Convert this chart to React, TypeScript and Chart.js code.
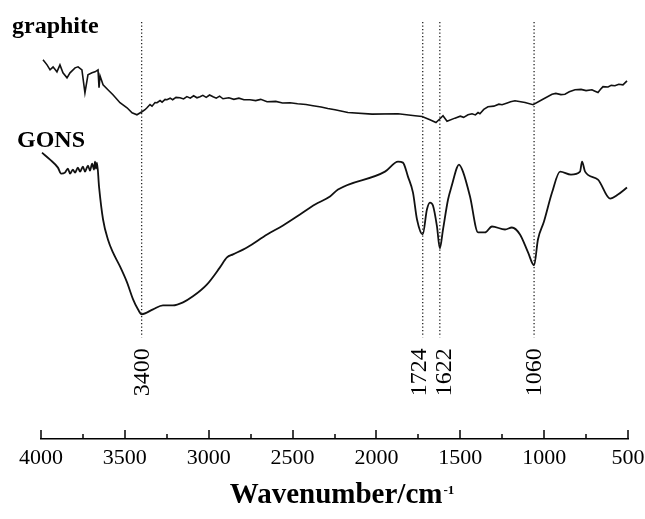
import React, { useEffect, useRef } from 'react';
import { Chart, registerables } from 'chart.js';

Chart.register(...registerables);

// Wavenumber (cm-1) and relative transmittance (a.u.)
const graphiteWn = [3988, 3964, 3946, 3928, 3905, 3887, 3869, 3845, 3827, 3797, 3779, 3756, 3738, 3720, 3696, 3678, 3660, 3654, 3648, 3630, 3601, 3571, 3529, 3487, 3457, 3428, 3398, 3380, 3368, 3350, 3338, 3320, 3308, 3290, 3278, 3260, 3249, 3230, 3215, 3195, 3171, 3150, 3130, 3110, 3090, 3070, 3052, 3035, 3015, 2995, 2974, 2955, 2935, 2915, 2880, 2850, 2820, 2790, 2754, 2720, 2690, 2652, 2600, 2560, 2515, 2470, 2420, 2378, 2330, 2290, 2247, 2170, 2026, 1871, 1770, 1728, 1681, 1645, 1621, 1603, 1579, 1532, 1500, 1480, 1454, 1430, 1410, 1394, 1383, 1360, 1335, 1300, 1270, 1251, 1220, 1200, 1174, 1140, 1114, 1066, 1013, 953, 930, 900, 876, 850, 816, 780, 750, 715, 700, 679, 660, 649, 619, 600, 578, 555, 530, 506];
const graphiteT = [95, 93.75, 92.5, 93.25, 92, 93.75, 91.75, 90.5, 91.75, 93, 93.25, 92.5, 86.75, 91.25, 91.75, 92, 92.5, 88, 91, 88.75, 87.5, 86.25, 84.25, 83, 81.75, 81.25, 82, 82.5, 83, 83.8, 83.4, 84.3, 84.25, 84.8, 84.4, 85.1, 85, 85.4, 85, 85.6, 85.5, 85.2, 85.8, 85.4, 86, 85.5, 85.75, 86.1, 85.6, 86.2, 85.75, 85.4, 85.9, 85.25, 85.5, 85.1, 85.4, 85, 85, 84.8, 85.1, 84.5, 84.6, 84.2, 84.25, 84, 83.8, 83.5, 83.2, 82.8, 82.5, 81.8, 81.4, 81.5, 81, 80.8, 80, 79.3, 80.25, 81, 79.6, 80.4, 80.9, 80.6, 81.25, 81.5, 81.2, 81.8, 81.5, 82.6, 83.25, 83.4, 83.9, 83.75, 84.2, 84.5, 84.75, 84.5, 84.3, 83.75, 85, 86.4, 86.6, 86.3, 86.4, 87, 87.5, 87.6, 87.3, 87.5, 87.2, 86.8, 87.8, 88.3, 88.2, 88.6, 88.5, 88.9, 88.75, 89.75];

const gonsWn = [3994, 3946, 3899, 3880, 3857, 3840, 3827, 3810, 3797, 3780, 3767, 3750, 3738, 3720, 3708, 3695, 3684, 3678, 3672, 3666, 3654, 3630, 3601, 3571, 3529, 3487, 3451, 3422, 3400, 3332, 3273, 3213, 3153, 3094, 3010, 2933, 2891, 2855, 2772, 2652, 2557, 2456, 2366, 2277, 2229, 1949, 1871, 1842, 1812, 1782, 1758, 1724, 1699, 1681, 1663, 1639, 1622, 1603, 1573, 1549, 1520, 1508, 1484, 1442, 1394, 1353, 1311, 1233, 1192, 1144, 1096, 1060, 1037, 1001, 953, 905, 840, 786, 774, 756, 679, 607, 560, 506];
const gonsT = [71.75, 70, 68, 66.5, 66.75, 67.75, 66.5, 67.5, 66.75, 68, 67, 68.25, 67, 68.5, 67.25, 69, 67.5, 69.5, 67.75, 69.25, 63.25, 55, 50, 46.75, 43.25, 39.25, 35, 32.5, 31.25, 32.5, 33.5, 33.5, 34.25, 35.75, 38.75, 43, 45.5, 46.25, 48, 51.25, 53.5, 56.25, 58.75, 60.75, 62.5, 67, 69.5, 69.25, 65.75, 61.75, 55, 51.25, 57.5, 59.25, 58.5, 53.25, 47.75, 52.5, 60, 63.75, 68, 68.75, 67, 60.75, 51.75, 51.75, 53.25, 52.5, 53, 51.25, 46.75, 43.5, 50, 54.5, 61.75, 67, 66.25, 67, 69.5, 67, 65, 60.25, 61.25, 63];

const peakPositions = [3400, 1724, 1622, 1060];
const peakLabels = ['3400', '1724', '1622', '1060'];
const markerTop = 104.5;
const markerBottom = 25.5;
const peakLabelLevel = 16.75;

const xTicksMajor = [4000, 3500, 3000, 2500, 2000, 1500, 1000, 500];
const xMin = 500;
const xMax = 4000;
const seriesNames = ['graphite', 'GONS'];

const toPoints = (xs: number[], ys: number[]) => xs.map((x, i) => ({ x, y: ys[i] }));

const annotatePlugin = {
  id: 'annotate',
  afterDraw(chart: any) {
    const { ctx, scales, chartArea } = chart;
    const xs = scales.x;
    const ys = scales.y;
    ctx.save();
    // tick marks pointing up from the axis line
    const axisY = xs.top;
    ctx.strokeStyle = '#000';
    ctx.lineWidth = 1.5;
    for (let v = xMin; v <= xMax; v += 250) {
      const px = Math.round(xs.getPixelForValue(v));
      const len = xTicksMajor.includes(v) ? 9 : 5;
      ctx.beginPath();
      ctx.moveTo(px, axisY);
      ctx.lineTo(px, axisY - len);
      ctx.stroke();
    }
    // peak labels, rotated
    ctx.fillStyle = '#000';
    ctx.font = '24px "Liberation Serif", serif';
    peakPositions.forEach((p, i) => {
      let shift = 0;
      const prev = peakPositions[i - 1];
      const next = peakPositions[i + 1];
      if (next !== undefined && Math.abs(p - next) < 150) shift = -4;
      if (prev !== undefined && Math.abs(p - prev) < 150) shift = 4;
      const px = xs.getPixelForValue(p) + shift;
      const py = ys.getPixelForValue(peakLabelLevel);
      ctx.save();
      ctx.translate(px + 1, py);
      ctx.rotate(-Math.PI / 2);
      ctx.textAlign = 'center';
      ctx.textBaseline = 'middle';
      ctx.fillText(peakLabels[i], 0, 0);
      ctx.restore();
    });
    // series names
    ctx.font = 'bold 24px "Liberation Serif", serif';
    ctx.textAlign = 'left';
    ctx.textBaseline = 'alphabetic';
    ctx.fillText(seriesNames[0], 12, 33);
    ctx.fillText(seriesNames[1], 17, 147);
    // axis title with superscript
    const main = 'Wavenumber/cm';
    const sup = '-1';
    ctx.font = 'bold 29px "Liberation Serif", serif';
    const w1 = ctx.measureText(main).width;
    ctx.font = 'bold 13px "Liberation Serif", serif';
    const w2 = ctx.measureText(sup).width;
    const cx = (chartArea.left + chartArea.right) / 2 + 7;
    const sx = cx - (w1 + w2) / 2;
    ctx.font = 'bold 29px "Liberation Serif", serif';
    ctx.fillText(main, sx, 503);
    ctx.font = 'bold 13px "Liberation Serif", serif';
    ctx.fillText(sup, sx + w1 + 1, 494);
    ctx.restore();
  },
};

export default function App() {
  const canvasRef = useRef<HTMLCanvasElement | null>(null);

  useEffect(() => {
    if (!canvasRef.current) return;
    const markerSets = peakPositions.map((p) => ({
      data: [
        { x: p, y: markerTop },
        { x: p, y: markerBottom },
      ],
      borderColor: '#222',
      borderWidth: 1.3,
      borderDash: [1.3, 2.2],
      pointRadius: 0,
      fill: false,
    }));
    const chart = new Chart(canvasRef.current, {
      type: 'line',
      data: {
        datasets: [
          {
            label: seriesNames[0],
            data: toPoints(graphiteWn, graphiteT),
            borderColor: '#111',
            borderWidth: 1.6,
            pointRadius: 0,
            tension: 0,
            fill: false,
          },
          {
            label: seriesNames[1],
            data: toPoints(gonsWn, gonsT),
            borderColor: '#111',
            borderWidth: 1.8,
            pointRadius: 0,
            cubicInterpolationMode: 'monotone',
            fill: false,
          },
          ...markerSets,
        ],
      },
      options: {
        responsive: false,
        animation: false,
        layout: { padding: { left: 41, right: 17, top: 0, bottom: 0 } },
        plugins: {
          legend: { display: false },
          tooltip: { enabled: false },
        },
        scales: {
          x: {
            type: 'linear',
            reverse: true,
            min: xMin,
            max: xMax,
            grid: { display: false, drawTicks: false },
            border: { display: true, color: '#000', width: 1.5 },
            ticks: {
              stepSize: 500,
              padding: 6,
              color: '#000',
              font: { family: '"Liberation Serif", serif', size: 22 },
              maxRotation: 0,
              autoSkip: false,
              callback: (v: any) => String(v),
            },
            afterFit: (scale: any) => {
              scale.height = 80;
              scale.paddingLeft = 0;
              scale.paddingRight = 0;
            },
          },
          y: {
            display: false,
            min: 0,
            max: 110,
          },
        },
      },
      plugins: [annotatePlugin],
    });
    return () => chart.destroy();
  }, []);

  return (
    <div style={{ position: 'absolute', left: 0, top: 0, width: 645, height: 519, background: '#fff' }}>
      <canvas ref={canvasRef} width={645} height={519} style={{ display: 'block' }} />
    </div>
  );
}
